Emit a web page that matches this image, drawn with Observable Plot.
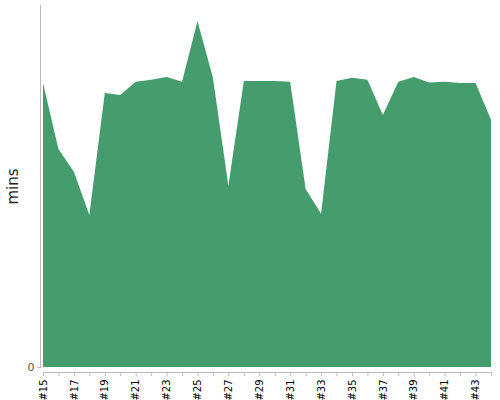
<!DOCTYPE html>
<html>
<head>
<meta charset="utf-8">
<script src="https://cdn.jsdelivr.net/npm/d3@7"></script>
<script src="https://cdn.jsdelivr.net/npm/@observablehq/plot@0.6"></script>
<style>
  body { margin: 0; background: #fff; }
  svg { font-family: "DejaVu Sans", sans-serif; }
</style>
</head>
<body>
<div id="chart"></div>
<script>
const runs = ["#15","#16","#17","#18","#19","#20","#21","#22","#23","#24",
              "#25","#26","#27","#28","#29","#30","#31","#32","#33","#34",
              "#35","#36","#37","#38","#39","#40","#41","#42","#43","#44"];
const mins = [71, 54.5, 48.8, 38, 68.5, 68, 71.3, 71.8, 72.5, 71.3,
              86.5, 72.3, 45.3, 71.5, 71.5, 71.5, 71.3, 44.5, 38.3, 71.5,
              72.3, 71.8, 63, 71.3, 72.5, 71.1, 71.3, 71, 71, 61.8];
const yTicks = [0];

const data = runs.map((r, i) => ({idx: i, run: r, mins: mins[i]}));
const idxTicks = d3.range(runs.length);

const chart = Plot.plot({
  width: 500,
  height: 400,
  marginLeft: 40,
  marginRight: 9,
  marginTop: 5,
  marginBottom: 33,
  style: {fontFamily: "DejaVu Sans, sans-serif", background: "#fff"},
  x: {domain: [0, runs.length - 1], insetLeft: 3},
  y: {domain: [0, 90.5]},
  marks: [
    Plot.areaY(data, {x: "idx", y: "mins", fill: "#459c6c", curve: "linear"}),
    Plot.frame({anchor: "left", stroke: "#bbb"}),
    Plot.ruleY([0], {x1: 0, x2: runs.length - 1, dy: 5, stroke: "#bbb"}),
    Plot.axisY({ticks: yTicks, tickSize: 3, tickPadding: 3, fontSize: 11, label: null, color: "#555", stroke: "#bbb"}),
    Plot.axisX({
      ticks: idxTicks, tickRotate: -90, tickSize: 4, dy: 5, tickPadding: 3, fontSize: 10, label: null,
      stroke: "#bbb", color: "#000",
      tickFormat: i => i % 2 ? "" : runs[i]
    }),
    Plot.text(["mins"], {frameAnchor: "left", textAnchor: "middle", dx: -27, rotate: -90, fontSize: 15, fill: "#222", fontFamily: "DejaVu Sans"})
  ]
});
document.getElementById("chart").append(chart);
</script>
</body>
</html>
